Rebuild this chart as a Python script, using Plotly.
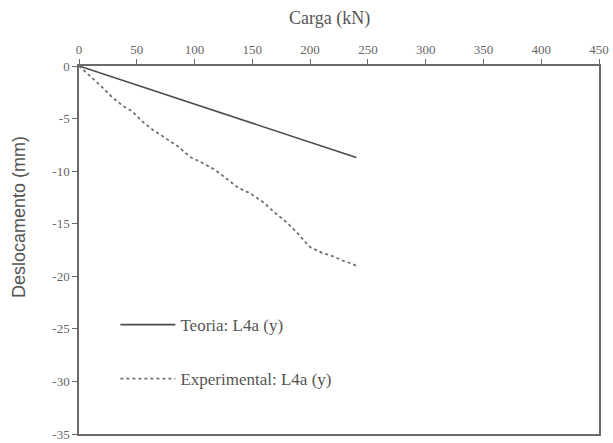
import plotly.graph_objects as go

# Data
teoria_x = [0, 240]
teoria_y = [0, -8.7]

exp_x = [0, 5, 12, 19, 28, 38, 46, 54, 63, 73, 79, 85, 97, 105, 118, 125, 138, 148,
         160, 170, 180, 190, 197, 201, 211, 220, 228, 236, 240]
exp_y = [0, -0.5, -1.2, -1.9, -2.9, -3.8, -4.3, -5.2, -6.0, -6.7, -7.1, -7.6, -8.7, -9.1,
         -9.9, -10.5, -11.6, -12.1, -13.0, -14.0, -14.9, -16.0, -16.9, -17.3, -17.8, -18.1,
         -18.5, -18.8, -19.0]

x_ticks = [0, 50, 100, 150, 200, 250, 300, 350, 400, 450]
y_ticks = [0, -5, -10, -15, -20, -25, -30, -35]

x_title = "Carga (kN)"
y_title = "Deslocamento (mm)"

serif = "Liberation Serif"
sans = "Liberation Sans"

fig = go.Figure()
fig.add_trace(go.Scatter(
    x=teoria_x, y=teoria_y, mode="lines", name="Teoria: L4a (y)",
    line=dict(color="#4a4a4a", width=1.6), legendgroup="a"))
fig.add_trace(go.Scatter(
    x=exp_x, y=exp_y, mode="lines", name="Experimental: L4a (y)",
    line=dict(color="#707070", width=1.8, dash="dot"), legendgroup="b"))

fig.update_layout(
    width=613, height=443,
    margin=dict(l=79, r=14, t=66, b=9, autoexpand=False),
    paper_bgcolor="white", plot_bgcolor="white",
    font=dict(family=serif, size=13, color="#555555"),
    showlegend=True,
    legend=dict(x=0.07, y=0.345, xanchor="left", yanchor="top",
                bgcolor="rgba(0,0,0,0)", font=dict(family=serif, size=17, color="#555555"),
                tracegroupgap=29, itemwidth=55),
    xaxis=dict(
        side="top", range=[0, 450], tickvals=x_ticks, ticktext=[str(v) for v in x_ticks],
        showgrid=False, zeroline=False, showline=True, mirror=True,
        linecolor="#6a6a6a", linewidth=1.5, ticks="outside", ticklen=5,
        tickcolor="#6a6a6a", tickfont=dict(family=serif, size=13, color="#666666"),
        ticklabeloverflow="allow"),
    yaxis=dict(
        range=[-35, 0], tickvals=y_ticks, ticktext=[str(v) for v in y_ticks],
        showgrid=False, zeroline=False, showline=True, mirror=True,
        linecolor="#6a6a6a", linewidth=1.5, ticks="outside", ticklen=5,
        tickcolor="#6a6a6a", tickfont=dict(family=serif, size=13, color="#666666"),
        ticklabeloverflow="allow"),
    annotations=[
        dict(text=x_title, xref="paper", yref="paper", x=0.481, y=1.13,
             xanchor="center", yanchor="middle", showarrow=False,
             font=dict(family=serif, size=18, color="#555555")),
        dict(text=y_title, xref="paper", yref="paper", x=-0.115, y=0.59,
             xanchor="center", yanchor="middle", showarrow=False, textangle=-90,
             font=dict(family=sans, size=18, color="#555555")),
    ],
)

fig.write_html(
    "out.html",
    config={"displayModeBar": False},
    post_script="document.body.style.margin='0';document.body.style.overflow='hidden';",
)
